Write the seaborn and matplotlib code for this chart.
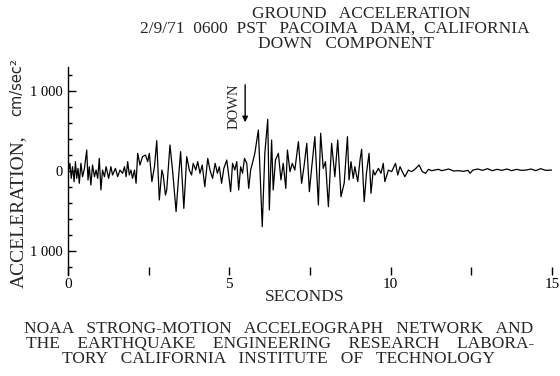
import numpy as np
import matplotlib
matplotlib.use("Agg")
import matplotlib.pyplot as plt
import seaborn as sns

# 读图得到的数据 (秒, cm/sec^2)
t_early = [0.00, 0.02, 0.06, 0.10, 0.14, 0.19, 0.23, 0.27, 0.31, 0.35, 0.40, 0.45, 0.51,
           0.58, 0.62, 0.66, 0.71, 0.76, 0.82, 0.87, 0.92, 0.97, 1.02, 1.07, 1.13, 1.18,
           1.26, 1.33, 1.38, 1.47, 1.54, 1.61, 1.69, 1.75, 1.80, 1.85, 1.90, 1.95, 2.00,
           2.06, 2.11, 2.16, 2.23, 2.31, 2.40, 2.47, 2.52, 2.60, 2.68, 2.75, 2.83, 2.91, 2.95]
acc_early = [0, 12, 96, -92, 54, -133, 117, -92, 33, -154, 96, -71, 33,
             262, -112, 54, -175, 75, -71, 12, -92, 158, -237, 12, -71, 54,
             -92, 54, -50, 33, -71, 12, -29, 54, -71, 117, -50, 12, -92,
             12, -154, 221, 75, 179, 200, 117, 221, -133, 54, 379, -362, 12, -50]

t_strong = [3.02, 3.06, 3.16, 3.24, 3.35, 3.42, 3.49, 3.59, 3.68, 3.76, 3.83, 3.88, 3.96,
            4.02, 4.09, 4.16, 4.24, 4.33, 4.40, 4.48, 4.56, 4.63, 4.69, 4.76, 4.83, 4.92,
            4.98, 5.04, 5.10, 5.17, 5.23, 5.29, 5.35, 5.41, 5.47, 5.54, 5.60, 5.66, 5.74, 5.79]
acc_strong = [-300, -237, 325, 12, -508, -112, 242, -467, 179, 12, -50, 96, 12,
              117, -29, 75, -196, 158, 12, -92, 96, -29, 54, -154, 33, 137,
              -50, -258, 96, 12, 117, -237, 54, -29, 158, 96, -217, 12, 137, 221]

t_main = [5.90, 6.02, 6.10, 6.19, 6.24, 6.31, 6.36, 6.43, 6.52, 6.60, 6.67, 6.75, 6.80,
          6.88, 6.95, 7.03, 7.14, 7.24, 7.32, 7.40, 7.48, 7.55, 7.65, 7.76, 7.83, 7.91,
          7.98, 8.07, 8.17, 8.27, 8.36, 8.46, 8.56, 8.66, 8.71, 8.77, 8.84, 8.89, 8.98]
acc_main = [512, -696, 221, 646, -487, 387, -237, 137, 221, -112, 96, -217, 262,
            -8, 96, 12, 367, -154, 75, 346, -258, 33, 429, -425, 471, 33,
            117, -446, 346, -71, 387, -321, -150, 429, -112, 117, -92, 54, -133]

t_decay = [9.05, 9.10, 9.18, 9.25, 9.33, 9.39, 9.46, 9.51, 9.62, 9.70, 9.77, 9.82, 9.93,
           10.03, 10.15, 10.22, 10.29, 10.36, 10.44, 10.55, 10.65, 10.75, 10.88, 10.98,
           11.08, 11.17, 11.27, 11.37, 11.48, 11.58, 11.66, 11.80, 11.95, 12.10, 12.25,
           12.40, 12.46, 12.55, 12.70, 12.85, 13.00, 13.15, 13.30, 13.45, 13.60, 13.75,
           13.90, 14.05, 14.20, 14.35, 14.50, 14.65, 14.80, 15.00]
acc_decay = [137, 271, -383, -29, 221, -279, 12, -50, 33, -29, 96, -133, 12,
             -8, 96, -50, 54, -8, -71, 12, -8, 21, 75, -8,
             -29, 21, 4, 12, 21, 4, 12, 25, 0, 4, -4,
             8, -29, 12, 25, 8, 29, 4, 21, 8, 25, 4,
             21, 8, 12, 25, 4, 29, 8, 12]

y_ticks = [-1000, 0, 1000]
y_ticklabels = ["1 000", "0", "1 000"]
x_ticks = [0, 5, 10, 15]

t = np.concatenate([t_early, t_strong, t_main, t_decay])
acc = np.concatenate([acc_early, acc_strong, acc_main, acc_decay])

sns.set_theme(style="white")
plt.rcParams['font.family'] = ['Liberation Serif', 'DejaVu Serif']

fig = plt.figure(figsize=(5.6, 3.76), dpi=100)
ax = fig.add_axes([68 / 560, 1 - 275 / 376, 484 / 560, 208 / 376])

sns.lineplot(x=t, y=acc, ax=ax, color='black', linewidth=0.9, estimator=None, sort=False)

ax.set_xlim(0, 15)
ax.set_ylim(-1300, 1300)
for s in ['top', 'right', 'bottom']:
    ax.spines[s].set_visible(False)
ax.spines['left'].set_color('black')
ax.spines['left'].set_linewidth(1)

ax.set_yticks(y_ticks)
ax.set_yticklabels(y_ticklabels)
ax.set_yticks(np.arange(-1200, 1201, 200), minor=True)
ax.set_xticks(x_ticks)
ax.set_xticklabels([str(v) for v in x_ticks])
ax.set_xticks([2.5, 7.5, 12.5], minor=True)
ax.tick_params(axis='y', which='major', left=True, direction='in', length=6, width=1,
               color='black', labelsize=10.5, pad=4, labelcolor='black')
ax.tick_params(axis='y', which='minor', left=True, direction='in', length=3, width=1, color='black')
ax.tick_params(axis='x', which='both', bottom=True, direction='in', length=6, width=1,
               color='black', labelsize=11, pad=2, labelcolor='black')
ax.set_xlabel('')
ax.set_ylabel('')

# DOWN 标记
ax.text(5.14, 812, 'DOWN', rotation=90, ha='center', va='center', fontsize=10.5)
ax.annotate('', xy=(5.49, 575), xytext=(5.49, 1112),
            arrowprops=dict(arrowstyle='-|>', color='black', lw=1, mutation_scale=8))

# 标题
fig.text(361 / 560, 1 - 14 / 376, 'GROUND   ACCELERATION', ha='center', va='center', fontsize=12.5)
fig.text(335 / 560, 1 - 29 / 376, '2/9/71  0600  PST   PACOIMA   DAM,  CALIFORNIA',
         ha='center', va='center', fontsize=12.5)
fig.text(346 / 560, 1 - 44 / 376, 'DOWN   COMPONENT', ha='center', va='center', fontsize=12.5)

fig.text(305 / 560, 1 - 297 / 376, 'SECONDS', ha='center', va='center', fontsize=12.5)
fig.text(18 / 560, 1 - 212 / 376, 'ACCELERATION,', rotation=90,
         ha='center', va='center', fontsize=14)
fig.text(17 / 560, 1 - 87 / 376, 'cm/sec²', rotation=90, family=['DejaVu Sans'],
         ha='center', va='center', fontsize=10.5)

# 底部说明
fig.text(279 / 560, 1 - 329 / 376, 'NOAA   STRONG-MOTION   ACCELEOGRAPH   NETWORK   AND',
         ha='center', va='center', fontsize=12.5)
fig.text(280 / 560, 1 - 344 / 376, 'THE    EARTHQUAKE    ENGINEERING    RESEARCH    LABORA-',
         ha='center', va='center', fontsize=12.5)
fig.text(279 / 560, 1 - 359 / 376, 'TORY   CALIFORNIA   INSTITUTE   OF   TECHNOLOGY',
         ha='center', va='center', fontsize=12.5)

fig.savefig('out.png', dpi=100, facecolor='white')
